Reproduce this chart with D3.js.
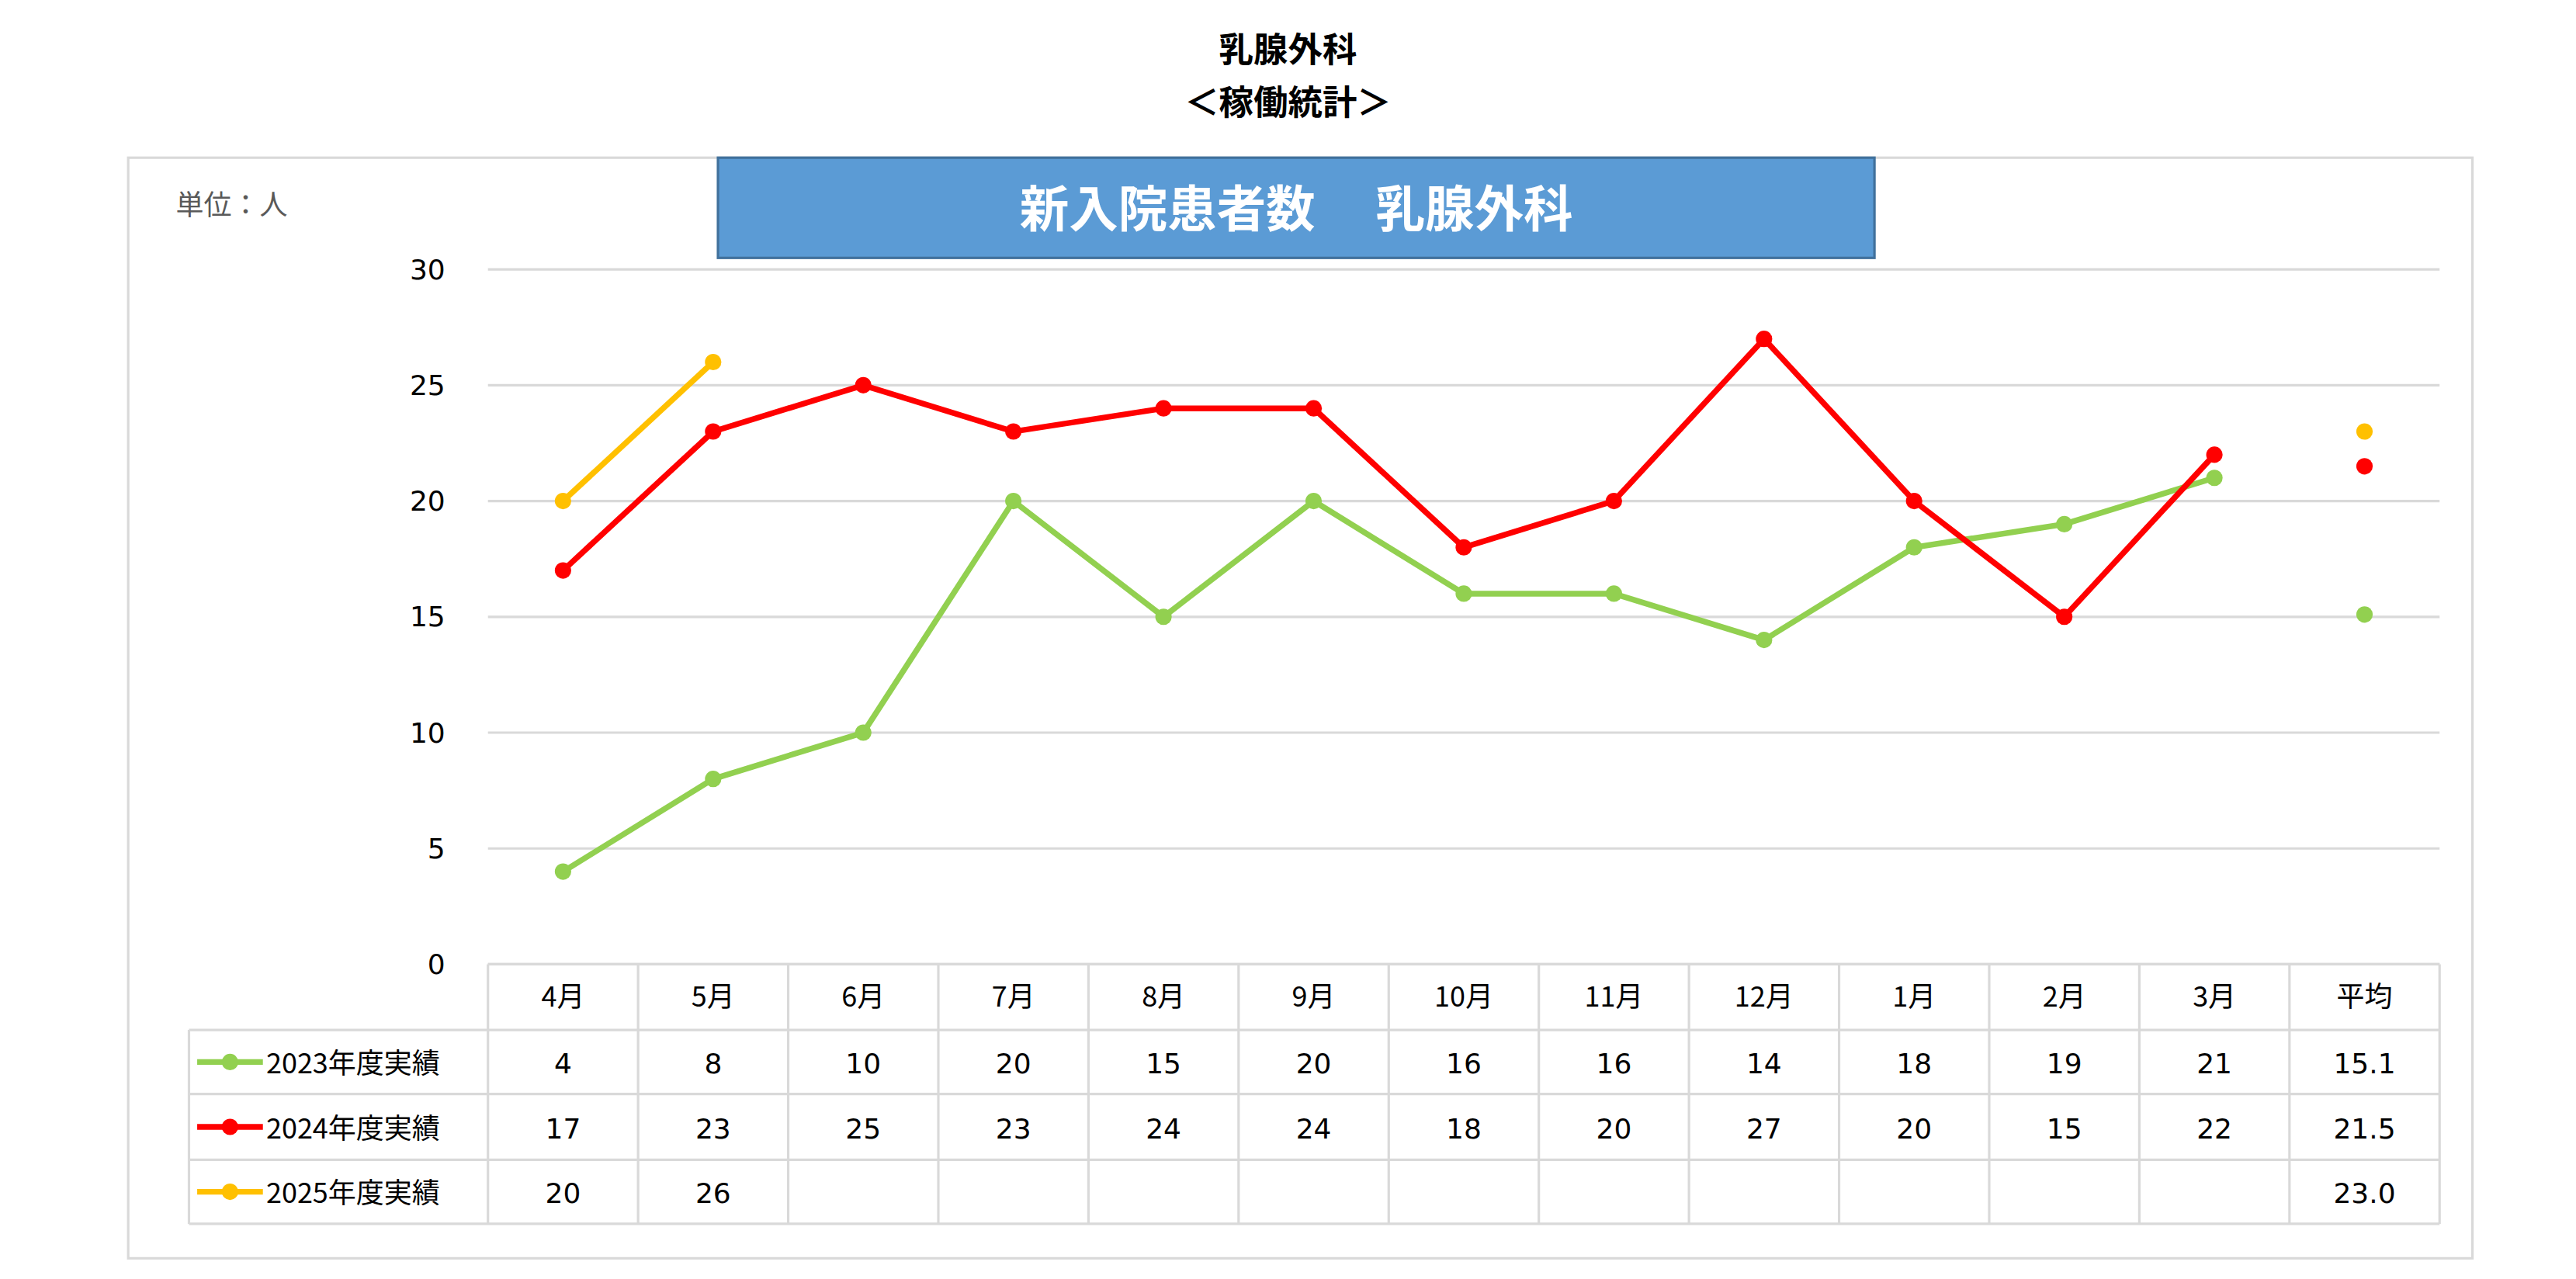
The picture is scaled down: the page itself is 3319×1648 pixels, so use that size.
<!DOCTYPE html>
<html><head><meta charset="utf-8">
<script src="https://cdn.jsdelivr.net/npm/d3@7"></script>
<style>body{margin:0;background:#fff}</style>
</head><body>
<script>
// chart data
var months = ['4月','5月','6月','7月','8月','9月','10月','11月','12月','1月','2月','3月','平均'];
var seriesNames = ['2023年度実績','2024年度実績','2025年度実績'];
var colors = ['#92D050','#FF0000','#FFC000'];
var v2023 = [4,8,10,20,15,20,16,16,14,18,19,21];
var v2024 = [17,23,25,23,24,24,18,20,27,20,15,22];
var v2025 = [20,26];
var avgs = [15.1,21.5,23.0];
var yTicks = [0,5,10,15,20,25,30];

var series = [v2023, v2024, v2025];
var jp = '"Noto Sans CJK JP", sans-serif';
var num = '"DejaVu Sans", Verdana, sans-serif';

var svg = d3.select('body').append('svg')
    .attr('width', 3319).attr('height', 1648)
    .attr('viewBox', '0 0 1568 778.6');

svg.append('text').attr('x', 784).attr('y', 38).attr('text-anchor', 'middle')
    .attr('font-family', jp).attr('font-weight', 'bold').attr('font-size', 21).text('乳腺外科');
svg.append('text').attr('x', 784).attr('y', 70).attr('text-anchor', 'middle')
    .attr('font-family', jp).attr('font-weight', 'bold').attr('font-size', 21).text('＜稼働統計＞');

// outer frame
svg.append('rect').attr('x', 78).attr('y', 96).attr('width', 1427).attr('height', 670)
    .attr('fill', 'none').attr('stroke', '#d9d9d9').attr('stroke-width', 1.5);

svg.append('rect').attr('x', 437).attr('y', 96).attr('width', 704).attr('height', 61)
    .attr('fill', '#5B9BD5').attr('stroke', '#41719C').attr('stroke-width', 1.5);
svg.append('text').attr('x', 789).attr('y', 138).attr('text-anchor', 'middle')
    .attr('font-family', jp).attr('font-weight', 'bold').attr('font-size', 30).attr('fill', '#fff')
    .attr('xml:space', 'preserve').text('新入院患者数　 乳腺外科');

svg.append('text').attr('x', 107).attr('y', 131).attr('font-family', jp)
    .attr('font-size', 17).attr('fill', '#595959').text('単位：人');

var x = d3.scaleBand().domain(months).range([297, 1485]);
var y = d3.scaleLinear().domain([0, 30]).range([587, 164]);

// gridlines and y labels
svg.selectAll('.grid').data(yTicks).enter().append('line')
    .attr('x1', 297).attr('x2', 1485)
    .attr('y1', function(d) { return y(d); }).attr('y2', function(d) { return y(d); })
    .attr('stroke', '#d9d9d9').attr('stroke-width', 1.5);
svg.selectAll('.ylab').data(yTicks).enter().append('text')
    .attr('x', 271).attr('y', function(d) { return y(d) + 6; }).attr('text-anchor', 'end')
    .attr('font-family', num).attr('font-size', 17).attr('fill', '#000').text(function(d) { return d; });

// lines + points
var cx = function(d, i) { return x(months[i]) + x.bandwidth() / 2; };
series.forEach(function(vals, s) {
  svg.append('path').datum(vals)
      .attr('fill', 'none').attr('stroke', colors[s]).attr('stroke-width', 3.5)
      .attr('d', d3.line().x(cx).y(function(d) { return y(d); }));
  svg.selectAll('.pt' + s).data(vals).enter().append('circle')
      .attr('cx', cx).attr('cy', function(d) { return y(d); }).attr('r', 5).attr('fill', colors[s]);
  svg.append('circle').attr('cx', x('平均') + x.bandwidth() / 2).attr('cy', y(avgs[s]))
      .attr('r', 5).attr('fill', colors[s]);
});

// data table
var rowTop = [587, 627, 666, 706, 745];
var tbl = svg.append('g').attr('stroke', '#d9d9d9').attr('stroke-width', 1.5);
d3.range(months.length + 1).forEach(function(i) {
  var xx = i < months.length ? x(months[i]) : 1485;
  tbl.append('line').attr('x1', xx).attr('x2', xx).attr('y1', 587).attr('y2', 745);
});
tbl.append('line').attr('x1', 115).attr('x2', 115).attr('y1', 627).attr('y2', 745);
rowTop.forEach(function(ry, i) {
  tbl.append('line').attr('x1', i === 0 ? 297 : 115).attr('x2', 1485).attr('y1', ry).attr('y2', ry);
});

svg.selectAll('.mh').data(months).enter().append('text')
    .attr('x', function(d) { return x(d) + x.bandwidth() / 2; }).attr('y', 613)
    .attr('text-anchor', 'middle').attr('font-family', jp).attr('font-size', 17).text(function(d) { return d; });

series.forEach(function(vals, s) {
  var ty = (rowTop[s + 1] + rowTop[s + 2]) / 2 + 7;
  svg.append('line').attr('x1', 120).attr('x2', 160).attr('y1', ty - 7).attr('y2', ty - 7)
      .attr('stroke', colors[s]).attr('stroke-width', 3.5);
  svg.append('circle').attr('cx', 140).attr('cy', ty - 7).attr('r', 5).attr('fill', colors[s]);
  svg.append('text').attr('x', 162).attr('y', ty).attr('font-family', jp).attr('font-size', 17)
      .text(seriesNames[s]);
  svg.selectAll('.tv' + s).data(vals).enter().append('text')
      .attr('x', cx).attr('y', ty).attr('text-anchor', 'middle')
      .attr('font-family', num).attr('font-size', 17).text(function(d) { return d; });
  svg.append('text').attr('x', x('平均') + x.bandwidth() / 2).attr('y', ty).attr('text-anchor', 'middle')
      .attr('font-family', num).attr('font-size', 17).text(avgs[s].toFixed(1));
});
</script>
</body></html>
